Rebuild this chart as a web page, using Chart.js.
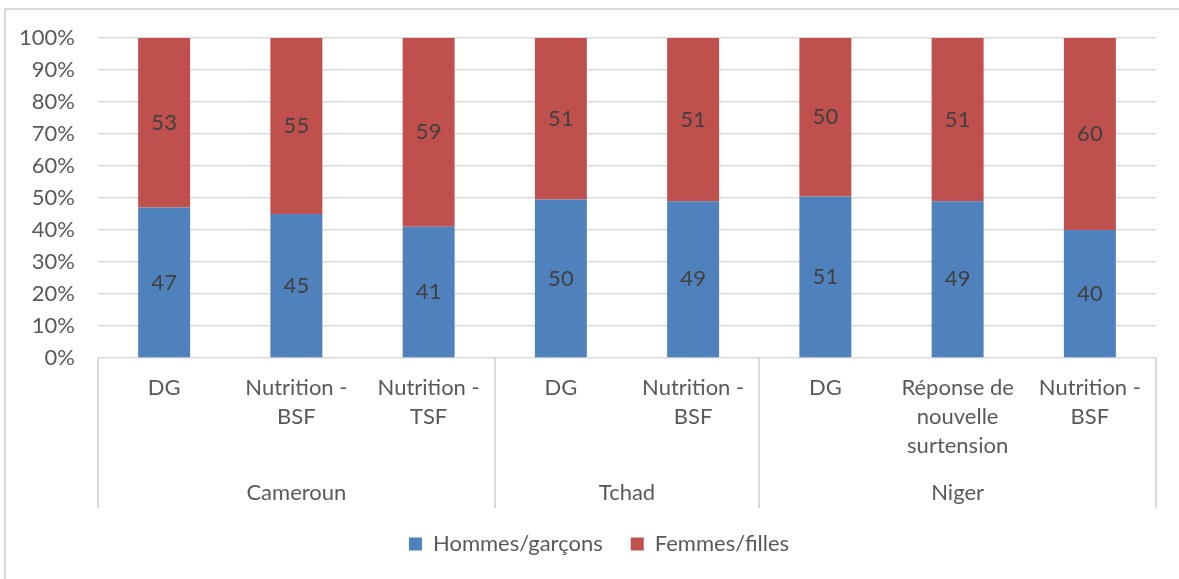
<!DOCTYPE html>
<html>
<head>
<meta charset="utf-8">
<script src="https://cdn.jsdelivr.net/npm/chart.js@4"></script>
<style>
  html, body { margin: 0; padding: 0; background: #ffffff; }
  #wrap { width: 1179px; height: 579px; position: relative; }
</style>
</head>
<body>
<div id="wrap"><canvas id="chart" width="1179" height="579"></canvas></div>
<script>
// Programmes grouped by country
const countries = ['Cameroun', 'Tchad', 'Niger'];
const groupSizes = [3, 2, 3];
const programmes = [
  ['DG'],
  ['Nutrition -', 'BSF'],
  ['Nutrition -', 'TSF'],
  ['DG'],
  ['Nutrition -', 'BSF'],
  ['DG'],
  ['Réponse de', 'nouvelle', 'surtension'],
  ['Nutrition -', 'BSF']
];

// Share of beneficiaries (%) by sex
const hommes = [47, 45, 41, 50, 49, 51, 49, 40];
const femmes = [53, 55, 59, 51, 51, 50, 51, 60];

const yTickValues = [0, 10, 20, 30, 40, 50, 60, 70, 80, 90, 100];

const FONT = 'Lato, "Open Sans", sans-serif';
const FONT_SIZE = 22;
const LEGEND_PAD = 28;
const TEXT = '#595959';
const LABEL = '#404040';
const GRID = '#d9d9d9';

// 100 % stacked: each bar is normalised by its own total
const totals = hommes.map((h, i) => h + femmes[i]);
const toShare = arr => arr.map((v, i) => v / totals[i] * 100);

const frame = {
  id: 'frame',
  beforeDraw(chart) {
    const ctx = chart.ctx;
    ctx.save();
    ctx.fillStyle = '#ffffff';
    ctx.fillRect(0, 0, chart.width, chart.height);
    ctx.strokeStyle = GRID;
    ctx.lineWidth = 2;
    ctx.beginPath();
    ctx.moveTo(5, chart.height + 2);
    ctx.lineTo(5, 9);
    ctx.lineTo(chart.width + 2, 9);
    ctx.stroke();
    ctx.restore();
  }
};

// centre the legend under the plot rather than the whole canvas
const legendShift = {
  id: 'legendShift',
  afterLayout(chart) {
    const lg = chart.legend;
    if (!lg) return;
    const dx = 21;
    lg.left += dx;
    lg.right += dx;
  }
};

const valueLabels = {
  id: 'valueLabels',
  afterDatasetsDraw(chart) {
    const ctx = chart.ctx;
    ctx.save();
    ctx.font = FONT_SIZE + 'px ' + FONT;
    ctx.fillStyle = LABEL;
    ctx.textAlign = 'center';
    ctx.textBaseline = 'middle';
    chart.data.datasets.forEach((ds, di) => {
      const meta = chart.getDatasetMeta(di);
      meta.data.forEach((bar, i) => {
        const y = (bar.y + bar.base) / 2;
        ctx.fillText(String(ds.raw[i]), bar.x, y);
      });
    });
    ctx.restore();
  }
};

const groupedAxis = {
  id: 'groupedAxis',
  afterDraw(chart) {
    const ctx = chart.ctx;
    const xs = chart.scales.x;
    const area = chart.chartArea;
    const n = programmes.length;
    const step = (xs.right - xs.left) / n;
    const top = area.bottom;
    ctx.save();
    // separators between country groups
    ctx.strokeStyle = GRID;
    ctx.lineWidth = 2;
    let idx = 0;
    const bounds = [0];
    groupSizes.forEach(g => { idx += g; bounds.push(idx); });
    ctx.beginPath();
    bounds.forEach(b => {
      const x = Math.round(xs.getPixelForValue(b) - step / 2);
      ctx.moveTo(x, top);
      ctx.lineTo(x, top + 150);
    });
    ctx.stroke();
    // programme labels
    ctx.font = FONT_SIZE + 'px ' + FONT;
    ctx.fillStyle = TEXT;
    ctx.textAlign = 'center';
    ctx.textBaseline = 'middle';
    programmes.forEach((lines, i) => {
      const x = xs.getPixelForValue(i);
      lines.forEach((t, k) => ctx.fillText(t, x, top + 30 + k * 29));
    });
    // country labels
    countries.forEach((c, gi) => {
      const x0 = xs.getPixelForValue(bounds[gi]) - step / 2;
      const x1 = xs.getPixelForValue(bounds[gi + 1]) - step / 2;
      ctx.fillText(c, (x0 + x1) / 2, top + 135);
    });
    ctx.restore();
  }
};

new Chart(document.getElementById('chart'), {
  type: 'bar',
  data: {
    labels: programmes.map(p => p.join(' ')),
    datasets: [
      {
        label: 'Hommes/garçons',
        data: toShare(hommes),
        raw: hommes,
        backgroundColor: '#4f81bd',
        barPercentage: 0.393,
        categoryPercentage: 1
      },
      {
        label: 'Femmes/filles',
        data: toShare(femmes),
        raw: femmes,
        backgroundColor: '#c0504d',
        barPercentage: 0.393,
        categoryPercentage: 1
      }
    ]
  },
  options: {
    responsive: false,
    animation: false,
    devicePixelRatio: 1,
    layout: { padding: { top: 38, right: 23, bottom: 14, left: 0 } },
    plugins: {
      legend: {
        position: 'bottom',
        labels: {
          boxWidth: 13,
          boxHeight: 13,
          padding: LEGEND_PAD,
          color: TEXT,
          font: { family: FONT, size: FONT_SIZE }
        }
      },
      tooltip: { enabled: false }
    },
    scales: {
      x: {
        stacked: true,
        grid: { display: false },
        border: { display: false },
        ticks: { display: false },
        // leaves the plot bottom at 358 px once the legend block is placed
        afterFit: s => { s.height = 579 - 14 - (FONT_SIZE + LEGEND_PAD + 10) - 358; }
      },
      y: {
        stacked: true,
        min: 0,
        max: 100,
        afterBuildTicks: s => { s.ticks = yTickValues.map(v => ({ value: v })); },
        afterFit: s => { s.width = 98; },
        grid: { color: GRID, lineWidth: 1.5, drawTicks: false },
        border: { display: false },
        ticks: {
          padding: 23,
          color: TEXT,
          font: { family: FONT, size: FONT_SIZE },
          callback: v => v + '%'
        }
      }
    }
  },
  plugins: [frame, legendShift, valueLabels, groupedAxis]
});
</script>
</body>
</html>
